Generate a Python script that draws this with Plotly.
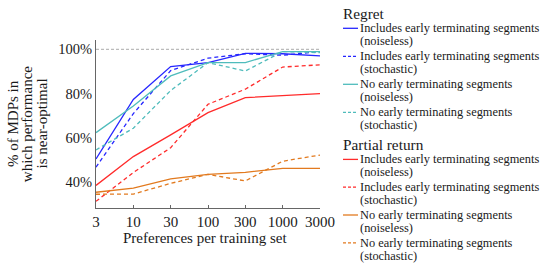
import plotly.graph_objects as go

x_labels = ["3", "10", "30", "100", "300", "1000", "3000"]
x_pos = list(range(len(x_labels)))

regret_incl_noiseless = [50.5, 77.4, 92.2, 94.0, 98.2, 98.0, 97.0]
regret_incl_stochastic = [46.8, 71.0, 90.4, 96.0, 98.0, 97.3, 99.0]
regret_noearly_noiseless = [62.4, 74.4, 88.0, 94.0, 94.0, 99.0, 99.0]
regret_noearly_stochastic = [54.6, 64.4, 81.4, 94.0, 90.2, 99.0, 98.5]
pr_incl_noiseless = [38.6, 51.6, 61.4, 71.4, 78.2, 79.1, 80.0]
pr_incl_stochastic = [31.4, 44.4, 55.6, 75.2, 82.0, 92.0, 93.0]
pr_noearly_noiseless = [35.5, 37.4, 41.5, 43.6, 44.5, 46.3, 46.3]
pr_noearly_stochastic = [34.6, 34.7, 39.5, 43.6, 40.6, 49.5, 52.3]

y_tickvals = [40, 60, 80, 100]
y_ticktext = ["40%", "60%", "80%", "100%"]

x_title = "Preferences per training set"
y_title_lines = ["% of MDPs in", "which performance", "is near-optimal"]

group_titles = ["Regret", "Partial return"]
item_names = [
    "Includes early terminating segments",
    "Includes early terminating segments",
    "No early terminating segments",
    "No early terminating segments",
]
item_modes = ["(noiseless)", "(stochastic)", "(noiseless)", "(stochastic)"]

BLUE = "#2626ff"
TEAL = "#4fbcbc"
RED = "#ff2b2b"
ORANGE = "#e27a1f"
DASH = "4px,3px"
TXT = "#1a1a1a"

groups = [
    [(regret_incl_noiseless, BLUE, "solid"), (regret_incl_stochastic, BLUE, DASH),
     (regret_noearly_noiseless, TEAL, "solid"), (regret_noearly_stochastic, TEAL, DASH)],
    [(pr_incl_noiseless, RED, "solid"), (pr_incl_stochastic, RED, DASH),
     (pr_noearly_noiseless, ORANGE, "solid"), (pr_noearly_stochastic, ORANGE, DASH)],
]

FONT = "Liberation Serif"
W, H = 540, 277
L, R, T, B = 96, 220, 40, 69
PW, PH = W - L - R, H - T - B


def px_x(px):
    return (px - L) / PW


def px_y(py):
    return (H - B - py) / PH


fig = go.Figure()
for gi, grp in enumerate(groups):
    for ii, (ys, col, dash) in enumerate(grp):
        fig.add_trace(go.Scatter(
            x=x_pos, y=ys, mode="lines",
            name=f"{group_titles[gi]}: {item_names[ii]} {item_modes[ii]}",
            line=dict(color=col, width=1.3, dash=dash),
            showlegend=False, hoverinfo="skip",
        ))

fig.add_hline(y=100, line=dict(color="#aaaaaa", width=1, dash="3px,2px"))

# axis titles as annotations (tight line spacing like the reference)
fig.add_annotation(
    x=px_x(205), y=px_y(238), xref="paper", yref="paper", text=x_title,
    showarrow=False, xanchor="center", yanchor="middle",
    font=dict(family=FONT, size=15, color=TXT),
)
for k, (line, cx) in enumerate(zip(y_title_lines, [13.0, 27.2, 41.5])):
    fig.add_annotation(
        x=px_x(cx), y=px_y(124), xref="paper", yref="paper", text=line,
        showarrow=False, xanchor="center", yanchor="middle", textangle=-90,
        font=dict(family=FONT, size=15, color=TXT),
    )

# manual legend
title_y = [13.3, 144.5]
item_y0 = [28.3, 159.4]
for gi in range(2):
    fig.add_annotation(
        x=px_x(341), y=px_y(title_y[gi]), xref="paper", yref="paper",
        text=group_titles[gi], showarrow=False, xanchor="left", yanchor="middle",
        font=dict(family=FONT, size=15.3, color=TXT),
    )
    for ii, (ys, col, dash) in enumerate(groups[gi]):
        yy = item_y0[gi] + ii * (28.0 if gi == 0 else 27.8)
        fig.add_shape(
            type="line", xref="paper", yref="paper",
            x0=px_x(343), x1=px_x(358), y0=px_y(yy), y1=px_y(yy),
            line=dict(color=col, width=1.3, dash="3px,2px" if dash != "solid" else "solid"),
        )
        fig.add_annotation(
            x=px_x(357.5), y=px_y(yy), xref="paper", yref="paper",
            text=item_names[ii], showarrow=False, xanchor="left", yanchor="middle",
            font=dict(family=FONT, size=12.4, color=TXT),
        )
        fig.add_annotation(
            x=px_x(357.5), y=px_y(yy + 12.7), xref="paper", yref="paper",
            text=item_modes[ii], showarrow=False, xanchor="left", yanchor="middle",
            font=dict(family=FONT, size=12.4, color=TXT),
        )

fig.update_layout(
    width=W, height=H,
    margin=dict(l=L, r=R, t=T, b=B, autoexpand=False),
    paper_bgcolor="white", plot_bgcolor="white",
    font=dict(family=FONT, size=14, color=TXT),
    showlegend=False,
    hovermode=False,
    xaxis=dict(
        range=[0, 6], tickvals=x_pos, ticktext=x_labels,
        showgrid=False, zeroline=False,
        showline=True, linecolor="#666", linewidth=1,
        ticks="inside", ticklen=3, tickcolor="#666",
        tickfont=dict(family=FONT, size=15, color=TXT),
    ),
    yaxis=dict(
        range=[28.4, 104.2], tickvals=y_tickvals, ticktext=y_ticktext,
        showgrid=False, zeroline=False,
        showline=True, linecolor="#666", linewidth=1,
        ticks="", tickfont=dict(family=FONT, size=14.5, color=TXT),
    ),
)

fig.write_html(
    "out.html",
    config={"displayModeBar": False},
    post_script="document.body.style.margin='0';document.body.style.padding='0';",
)
